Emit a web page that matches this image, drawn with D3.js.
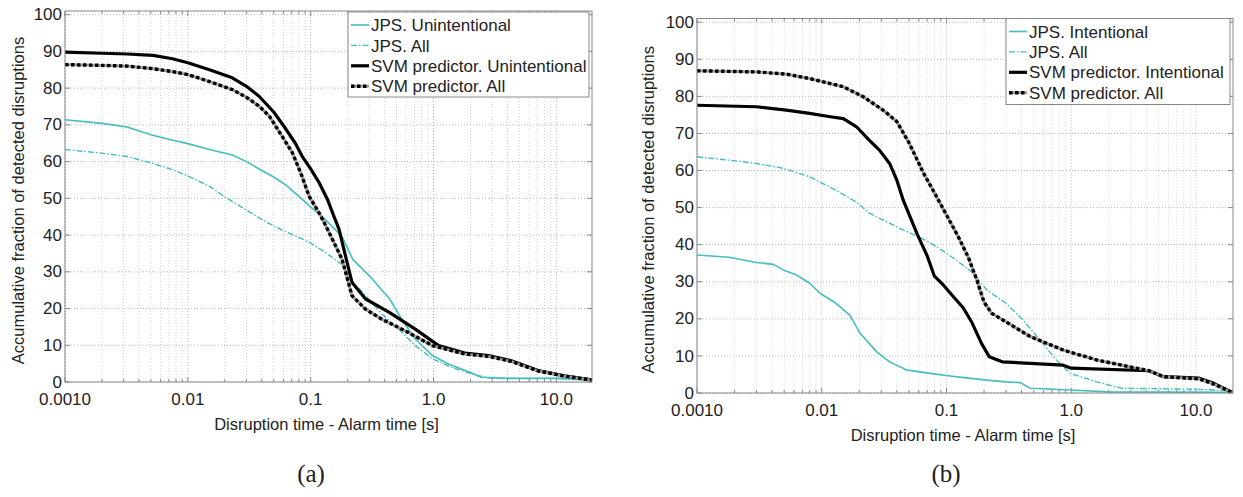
<!DOCTYPE html>
<html>
<head>
<meta charset="utf-8">
<script src="https://cdn.jsdelivr.net/npm/d3@7"></script>
<style>
  body { margin: 0; background: #fff; }
  text { font-family: "Liberation Sans", Arial, sans-serif; fill: #222; }
</style>
</head>
<body>
<div id="chart"></div>
<script>
// tick labels
var xTickVals = [0.001, 0.01, 0.1, 1, 10];
var xTickLabels = ["0.0010", "0.01", "0.1", "1.0", "10.0"];
var yTickVals = [0, 10, 20, 30, 40, 50, 60, 70, 80, 90, 100];

var legendA = ["JPS. Unintentional", "JPS. All", "SVM predictor. Unintentional", "SVM predictor. All"];
var legendB = ["JPS. Intentional", "JPS. All", "SVM predictor. Intentional", "SVM predictor. All"];

// panel (a) series: [time, percent]
var jpsUnintA = [[0.001,71.4],[0.002,70.4],[0.0032,69.4],[0.005,67.3],[0.0071,66],[0.01,64.9],[0.015,63.3],[0.023,61.8],[0.03,60.0],[0.038,58.0],[0.05,55.8],[0.063,53.6],[0.085,49.8],[0.1,47.6],[0.124,45.1],[0.15,42.3],[0.18,39.6],[0.22,33.4],[0.3,28.9],[0.44,22.6],[0.55,17.1],[0.71,11.7],[0.98,7.2],[1.32,4.9],[2.0,2.6],[2.45,1.3],[4,1.0],[10,1.0],[19.5,0.5]];
var jpsAllA = [[0.001,63.3],[0.002,62.3],[0.0032,61.4],[0.0052,59.5],[0.0075,57.8],[0.01,56.1],[0.015,53.3],[0.02,50.4],[0.03,46.8],[0.043,43.6],[0.06,41.2],[0.08,39.4],[0.1,37.8],[0.13,35.4],[0.18,32],[0.22,27.3],[0.28,23.5],[0.38,18.5],[0.52,14.4],[0.71,9.9],[0.98,6.3],[1.4,4.0],[2.3,1.7],[3,1.0],[10,1.0],[19.5,0.6]];
var svmUnintA = [[0.001,89.8],[0.002,89.5],[0.0032,89.3],[0.0052,88.9],[0.0075,88.0],[0.01,86.9],[0.015,85.0],[0.023,82.8],[0.03,80.5],[0.038,77.8],[0.05,73.5],[0.063,68.8],[0.075,65],[0.085,61.5],[0.1,58],[0.117,54.3],[0.137,49.7],[0.155,45],[0.17,41.6],[0.195,33.4],[0.217,27.1],[0.28,22.6],[0.44,18.9],[0.71,14.4],[1.1,9.9],[1.8,7.9],[2.8,7.2],[4.3,5.8],[7.1,3.1],[11.6,1.7],[19.5,0.6]];
var svmAllA = [[0.001,86.4],[0.002,86.2],[0.0032,86.0],[0.0052,85.3],[0.0075,84.5],[0.01,83.7],[0.015,81.8],[0.023,79.6],[0.03,77.5],[0.038,75.1],[0.046,72.4],[0.056,67.9],[0.071,62.4],[0.085,56],[0.097,50.6],[0.115,46.5],[0.133,42.5],[0.18,33.4],[0.217,23.5],[0.28,19.8],[0.38,17.1],[0.59,13.9],[0.98,9.9],[1.8,7.6],[2.8,7.0],[4.3,5.6],[7.1,3.0],[11.6,1.6],[19.5,0.5]];

// panel (b) series
var jpsIntB = [[0.001,37.2],[0.0018,36.6],[0.003,35.2],[0.0041,34.7],[0.0049,33.2],[0.0063,31.8],[0.008,29.6],[0.0097,26.9],[0.013,24.2],[0.0168,21],[0.0203,16.1],[0.0276,11.1],[0.035,8.4],[0.048,6.2],[0.061,5.7],[0.074,5.3],[0.107,4.6],[0.15,4.0],[0.22,3.4],[0.3,3.0],[0.39,2.8],[0.47,1.3],[0.98,0.8],[2,0.3],[20,0.2]];
var jpsAllB = [[0.001,63.7],[0.0018,62.8],[0.003,61.9],[0.0049,60.6],[0.008,58.3],[0.013,54.7],[0.019,51.5],[0.024,48.5],[0.04,44.8],[0.065,41.5],[0.08,39.8],[0.1,37.7],[0.12,35.8],[0.164,32.3],[0.21,27.8],[0.3,24.2],[0.41,19.7],[0.56,14.3],[0.76,8.9],[0.98,5.3],[1.6,3.0],[2.5,1.3],[10,1.0],[20,0.6]];
var svmIntB = [[0.001,77.6],[0.003,77.2],[0.0052,76.3],[0.008,75.4],[0.0117,74.5],[0.0149,74.0],[0.019,71.8],[0.024,68.2],[0.029,65.5],[0.035,61.9],[0.04,57.4],[0.045,52],[0.058,43],[0.07,37],[0.08,31.5],[0.095,29],[0.11,26.5],[0.136,23],[0.16,19],[0.19,13.5],[0.22,9.8],[0.28,8.4],[0.86,7.5],[1.0,6.7],[4.2,6.0],[5.5,4.4],[10.6,4.0],[13.9,2.6],[20,0]];
var svmAllB = [[0.001,86.9],[0.003,86.6],[0.0052,86.0],[0.008,84.8],[0.0149,82.6],[0.0215,79.9],[0.031,76.3],[0.04,73.2],[0.05,67.5],[0.065,59.5],[0.08,54],[0.1,48],[0.125,42],[0.15,36.5],[0.175,30.5],[0.2,24.5],[0.23,21.5],[0.3,19.2],[0.47,15.2],[0.86,11.6],[1.6,8.9],[2.9,7.1],[4.2,6.0],[5.5,4.4],[10.6,3.8],[13.9,2.4],[20,0]];

var W = 1243, H = 497;
var teal = "#44bdbd";

var svg = d3.select("#chart").append("svg")
    .attr("width", W)
    .attr("height", H);

// line styles in legend order
var styles = [
  {color: teal, width: 1.6, dash: null},
  {color: teal, width: 1.4, dash: "6,2,1.5,2"},
  {color: "#000", width: 3.2, dash: null},
  {color: "#000", width: 3.4, dash: "3.5,2.5", under: "#999"}
];

function drawPanel(cfg, series, labels) {
  var g = svg.append("g");
  var x = d3.scaleLog().domain([0.001, cfg.xmax]).range([cfg.left, cfg.right]);
  var y = d3.scaleLinear().domain([0, cfg.ymax]).range([cfg.bottom, cfg.top]);

  // minor ticks 1..9 per decade
  var minor = [];
  for (var e = -3; e <= 1; e++) {
    for (var m = 1; m <= 9; m++) {
      var v = m * Math.pow(10, e);
      if (v <= cfg.xmax) minor.push(v);
    }
  }

  // grid
  g.append("g").selectAll("line").data(minor).join("line")
    .attr("x1", d => x(d)).attr("x2", d => x(d))
    .attr("y1", cfg.top).attr("y2", cfg.bottom)
    .attr("stroke", d => xTickVals.includes(d) ? "#bbb" : "#d4d4d4")
    .attr("stroke-width", 1)
    .attr("stroke-dasharray", "1,2");
  g.append("g").selectAll("line").data(yTickVals).join("line")
    .attr("x1", cfg.left).attr("x2", cfg.right)
    .attr("y1", d => y(d)).attr("y2", d => y(d))
    .attr("stroke", "#bbb")
    .attr("stroke-width", 1)
    .attr("stroke-dasharray", "1,2");

  // inside ticks on all sides
  var tk = g.append("g").attr("stroke", "#888").attr("stroke-width", 1);
  minor.forEach(function(d) {
    var len = xTickVals.includes(d) ? 5 : 3;
    tk.append("line").attr("x1", x(d)).attr("x2", x(d)).attr("y1", cfg.bottom).attr("y2", cfg.bottom - len);
    tk.append("line").attr("x1", x(d)).attr("x2", x(d)).attr("y1", cfg.top).attr("y2", cfg.top + len);
  });
  yTickVals.forEach(function(d) {
    tk.append("line").attr("x1", cfg.left).attr("x2", cfg.left + 5).attr("y1", y(d)).attr("y2", y(d));
    tk.append("line").attr("x1", cfg.right).attr("x2", cfg.right - 5).attr("y1", y(d)).attr("y2", y(d));
  });

  // lines
  var clipId = "clip" + cfg.name;
  svg.append("clipPath").attr("id", clipId).append("rect")
    .attr("x", cfg.left).attr("y", cfg.top)
    .attr("width", cfg.right - cfg.left).attr("height", cfg.bottom - cfg.top);
  var line = d3.line().x(d => x(d[0])).y(d => y(d[1]));
  var lg = g.append("g").attr("clip-path", "url(#" + clipId + ")");
  series.forEach(function(s, i) {
    var st = styles[i];
    if (st.under) {
      lg.append("path").datum(s).attr("d", line).attr("fill", "none")
        .attr("stroke", st.under).attr("stroke-width", st.width - 0.6);
    }
    lg.append("path").datum(s).attr("d", line).attr("fill", "none")
      .attr("stroke", st.color).attr("stroke-width", st.width)
      .attr("stroke-dasharray", st.dash)
      .attr("stroke-linejoin", "round");
  });

  // frame
  g.append("rect")
    .attr("x", cfg.left).attr("y", cfg.top)
    .attr("width", cfg.right - cfg.left).attr("height", cfg.bottom - cfg.top)
    .attr("fill", "none").attr("stroke", "#888").attr("stroke-width", 1);

  // tick labels
  g.append("g").selectAll("text").data(yTickVals).join("text")
    .attr("x", cfg.left - 3).attr("y", d => y(d)).attr("dy", "0.33em")
    .attr("text-anchor", "end").attr("font-size", 17)
    .text(d => d);
  g.append("g").selectAll("text").data(xTickVals).join("text")
    .attr("x", d => x(d)).attr("y", cfg.bottom + 23)
    .attr("text-anchor", "middle").attr("font-size", 17)
    .text((d, i) => xTickLabels[i]);

  // axis titles
  g.append("text")
    .attr("x", (cfg.left + cfg.right) / 2 - 2).attr("y", cfg.bottom + 48)
    .attr("text-anchor", "middle").attr("font-size", 16.5)
    .text("Disruption time - Alarm time [s]");
  g.append("text")
    .attr("transform", "translate(" + cfg.ytitleX + "," + ((cfg.top + cfg.bottom) / 2 + 4) + ") rotate(-90)")
    .attr("text-anchor", "middle").attr("font-size", 16.5)
    .text("Accumulative fraction of detected disruptions");

  // legend
  var L = cfg.legend;
  var leg = g.append("g");
  leg.append("rect")
    .attr("x", L.x).attr("y", L.y).attr("width", L.w).attr("height", L.h)
    .attr("fill", "#fff").attr("stroke", "#888").attr("stroke-width", 1);
  labels.forEach(function(lab, i) {
    var st = styles[i];
    var yy = L.y + 13 + i * 20.4;
    if (st.under) {
      leg.append("line").attr("x1", L.x + 3).attr("x2", L.x + 21).attr("y1", yy).attr("y2", yy)
        .attr("stroke", st.under).attr("stroke-width", st.width - 0.6);
    }
    leg.append("line").attr("x1", L.x + 3).attr("x2", L.x + 21).attr("y1", yy).attr("y2", yy)
      .attr("stroke", st.color).attr("stroke-width", st.width)
      .attr("stroke-dasharray", st.dash);
    leg.append("text").attr("x", L.x + 23).attr("y", yy).attr("dy", "0.36em")
      .attr("font-size", 17).text(lab);
  });

  // caption
  svg.append("text")
    .attr("x", cfg.capX).attr("y", 482)
    .attr("text-anchor", "middle")
    .style("font-family", "'Liberation Serif', 'DejaVu Serif', serif")
    .attr("font-size", 25)
    .text(cfg.caption);
}

drawPanel({name: "a", left: 65, right: 592, top: 11, bottom: 382, xmax: 19.5, ymax: 101,
           ytitleX: 24, capX: 311, caption: "(a)",
           legend: {x: 348, y: 12, w: 241, h: 85}},
          [jpsUnintA, jpsAllA, svmUnintA, svmAllA], legendA);

drawPanel({name: "b", left: 697, right: 1233, top: 18.5, bottom: 393, xmax: 19.8, ymax: 101,
           ytitleX: 654, capX: 946, caption: "(b)",
           legend: {x: 1006, y: 18.5, w: 224, h: 86}},
          [jpsIntB, jpsAllB, svmIntB, svmAllB], legendB);
</script>
</body>
</html>
